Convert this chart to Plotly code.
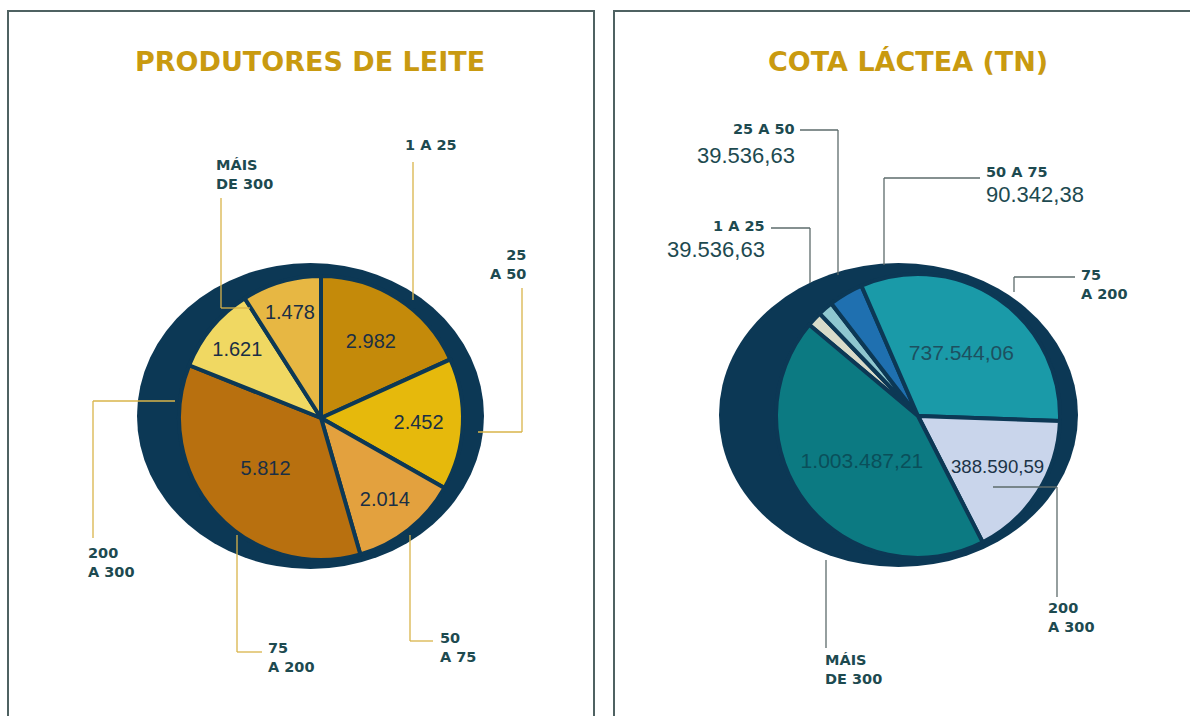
import plotly.graph_objects as go

# ---------------- data ----------------
categories = ["1 A 25", "25 A 50", "50 A 75", "75 A 200", "200 A 300", "MÁIS DE 300"]
produtores = [2982, 2452, 2014, 5812, 1621, 1478]
cota = [39536.63, 39536.63, 90342.38, 737544.06, 388590.59, 1003487.21]  # last value estimated (illegible)

title_left = "PRODUTORES DE LEITE"
title_right = "COTA LÁCTEA (TN)"

colors_left = ["#c48a0a", "#e6b90c", "#e3a13e", "#b8700f", "#f0d862", "#e7b743"]
colors_right = ["#d8dbc9", "#8ec7cf", "#1f70b0", "#1a9aa8", "#c9d5eb", "#0c7a82"]
textcol_right = ["#1b3a4a", "#1b3a4a", "#1b3a4a", "#1d5060", "#1b3347", "#0a4f5a"]
inside_right = [False, False, False, True, True, True]

NAVY = "#0c3855"
LABEL = "#1d4a50"
GOLD_LINE = "#d9b44a"
GRAY_LINE = "#5d6b6b"

W, H = 1190, 716


def fx(p):
    return p / W


def fy(p):
    return 1 - p / H


def fmt_int(v):
    return f"{v:,.0f}".replace(",", ".")


def fmt_dec(v):
    return f"{v:,.2f}".replace(",", "X").replace(".", ",").replace("X", ".")


fig = go.Figure()

# left pie
cxL, cyL, r = 321, 418, 142
fig.add_trace(go.Pie(
    labels=categories, values=produtores, sort=False, direction="clockwise", rotation=0,
    text=[fmt_int(v) for v in produtores], textinfo="text", textposition="inside",
    insidetextorientation="horizontal",
    textfont=dict(family="Liberation Sans, Arial", size=20, color="#1a2f45"),
    marker=dict(colors=colors_left, line=dict(color=NAVY, width=4)),
    domain=dict(x=[fx(cxL - r), fx(cxL + r)], y=[fy(cyL + r), fy(cyL - r)]),
    showlegend=False, hoverinfo="label+value",
))

# right pie
cxR, cyR = 918, 416
fig.add_trace(go.Pie(
    labels=categories, values=cota, sort=False, direction="clockwise", rotation=-50,
    text=[fmt_dec(v) if s else "" for v, s in zip(cota, inside_right)],
    textinfo="text", textposition="inside", insidetextorientation="horizontal",
    textfont=dict(family="Liberation Sans, Arial", size=21, color=textcol_right),
    marker=dict(colors=colors_right, line=dict(color=NAVY, width=4)),
    domain=dict(x=[fx(cxR - r), fx(cxR + r)], y=[fy(cyR + r), fy(cyR - r)]),
    showlegend=False, hoverinfo="label+value",
))

shapes = []
# panel borders
shapes.append(dict(type="rect", xref="paper", yref="paper", x0=fx(8), x1=fx(594), y0=fy(722), y1=fy(11),
                   line=dict(color="#4f6262", width=2), fillcolor="rgba(0,0,0,0)", layer="below"))
shapes.append(dict(type="rect", xref="paper", yref="paper", x0=fx(614), x1=fx(1195), y0=fy(722), y1=fy(11),
                   line=dict(color="#4f6262", width=2), fillcolor="rgba(0,0,0,0)", layer="below"))
# dark ellipses behind the pies
shapes.append(dict(type="circle", xref="paper", yref="paper", x0=fx(137), x1=fx(484), y0=fy(569), y1=fy(263),
                   line=dict(width=0), fillcolor=NAVY, layer="below"))
shapes.append(dict(type="circle", xref="paper", yref="paper", x0=fx(719), x1=fx(1078), y0=fy(567), y1=fy(263),
                   line=dict(width=0), fillcolor=NAVY, layer="below"))


def path(points, color):
    for (x0, y0), (x1, y1) in zip(points[:-1], points[1:]):
        shapes.append(dict(type="line", xref="paper", yref="paper", x0=fx(x0), y0=fy(y0), x1=fx(x1), y1=fy(y1),
                           line=dict(color=color, width=1.3), layer="above"))


# leader lines - left
path([(413, 162), (413, 300)], GOLD_LINE)
path([(221, 198), (221, 308), (250, 308)], GOLD_LINE)
path([(522, 288), (522, 432), (478, 432)], GOLD_LINE)
path([(93, 538), (93, 401), (175, 401)], GOLD_LINE)
path([(237, 535), (237, 652), (262, 652)], GOLD_LINE)
path([(410, 535), (410, 641), (433, 641)], GOLD_LINE)
# leader lines - right
path([(800, 130), (838, 130), (838, 275)], GRAY_LINE)
path([(771, 228), (810, 228), (810, 283)], GRAY_LINE)
path([(980, 178), (884, 178), (884, 265)], GRAY_LINE)
path([(1075, 277), (1014, 277), (1014, 292)], GRAY_LINE)
path([(1057, 597), (1057, 487), (993, 487)], GRAY_LINE)
path([(826, 648), (826, 560)], GRAY_LINE)

annotations = []
TF = "DejaVu Sans, Verdana"


def lab(text, x, ytop, anchor="left", size=14.5):
    annotations.append(dict(text="<b>" + text + "</b>", x=fx(x), y=fy(ytop), xref="paper", yref="paper",
                            xanchor=anchor, yanchor="top", showarrow=False, align=anchor,
                            font=dict(family=TF, size=size, color=LABEL)))


def val(text, x, ytop, anchor="right"):
    annotations.append(dict(text=text, x=fx(x), y=fy(ytop), xref="paper", yref="paper",
                            xanchor=anchor, yanchor="top", showarrow=False, align=anchor,
                            font=dict(family="Liberation Sans, Arial", size=22, color=LABEL)))


# titles
for t, x in [(title_left, 310), (title_right, 908)]:
    annotations.append(dict(text="<b>" + t + "</b>", x=fx(x), y=fy(62), xref="paper", yref="paper",
                            xanchor="center", yanchor="middle", showarrow=False,
                            font=dict(family=TF, size=27, color="#c99a10")))

# left labels
lab(categories[0], 403, 135)
lab("MÁIS<br>DE 300", 214, 155)
lab("25<br>A 50", 528, 245, anchor="right")
lab("200<br>A 300", 86, 543)
lab("75<br>A 200", 266, 638)
lab("50<br>A 75", 438, 628)

# right labels
lab(categories[1], 797, 119, anchor="right")
val(fmt_dec(cota[1]), 797, 141)
lab(categories[0], 767, 216, anchor="right")
val(fmt_dec(cota[0]), 767, 235)
lab(categories[2], 984, 162)
val(fmt_dec(cota[2]), 984, 180, anchor="left")
lab("75<br>A 200", 1079, 265)
lab("200<br>A 300", 1046, 598)
lab("MÁIS<br>DE 300", 823, 650)

fig.update_layout(
    width=W, height=H, margin=dict(l=0, r=0, t=0, b=0),
    paper_bgcolor="white", plot_bgcolor="white",
    shapes=shapes, annotations=annotations,
)

fig.write_html("out.html", config={"displayModeBar": False},
               post_script="document.body.style.margin='0';document.body.style.overflow='hidden';")
